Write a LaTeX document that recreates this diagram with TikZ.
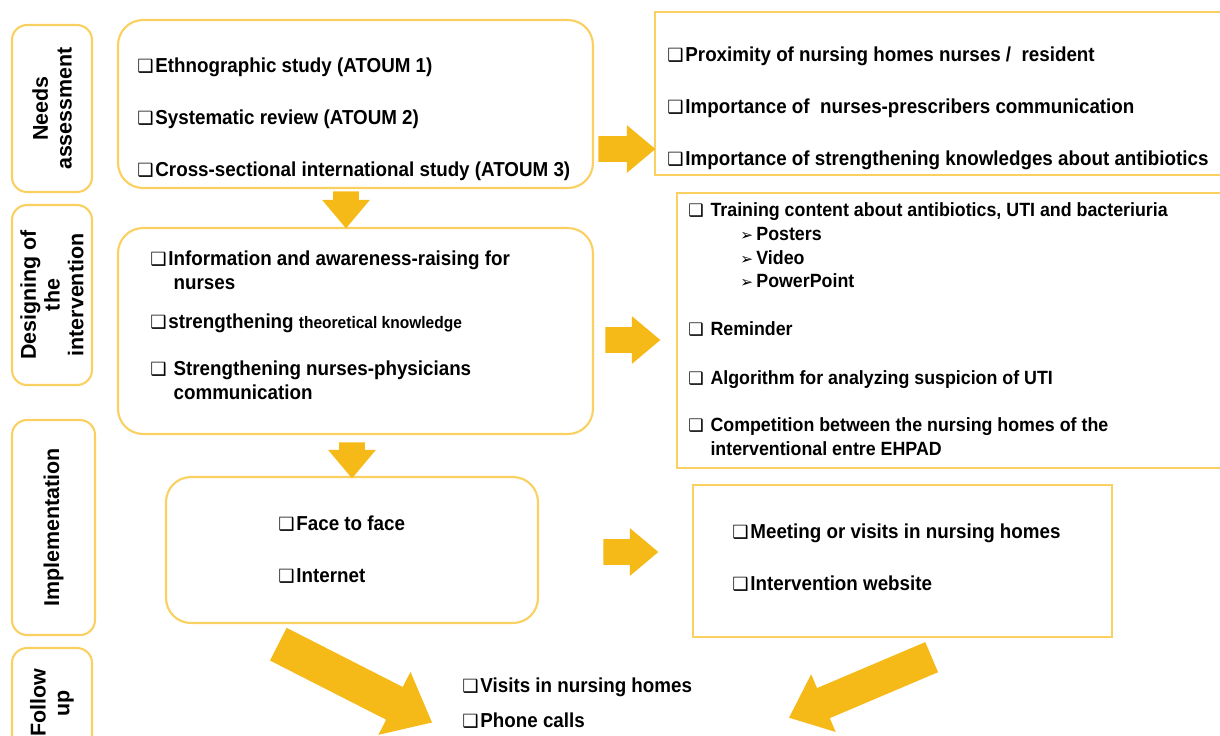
\documentclass[tikz,border=0pt]{standalone}
\usepackage{fontspec}
\setmainfont{Liberation Sans}[FakeStretch=0.93]
\newfontfamily\lblfont{Liberation Sans}
\newfontfamily\symfont{DejaVu Sans}
\usepackage{xcolor}
\usetikzlibrary{positioning,shapes.arrows}

\definecolor{boxline}{RGB}{250,208,96}
\definecolor{arrowfill}{RGB}{246,186,24}
\newcommand{\bx}{{\symfont\scalebox{0.9}{❑}}\kern1pt}
\newcommand{\nobx}{\phantom{\bx}}
\newcommand{\subarr}{\hspace*{1.04cm}{\symfont\scalebox{0.8}{➢}}\,}

\begin{document}
\begin{tikzpicture}[
    x=0.02cm, y=-0.02cm,
    phase/.style={
        draw=boxline,
        line width=1.2pt,
        rounded corners=0.3cm,
        rotate=90,
        align=center,
        inner sep=0pt,
        font=\lblfont\bfseries\fontsize{12.2}{13.5}\selectfont
    },
    block/.style={
        draw=boxline,
        line width=1.2pt,
        rounded corners=0.5cm,
        inner sep=0pt
    },
    plain/.style={
        draw=boxline,
        line width=1.2pt,
        inner sep=0pt
    },
    items/.style={
        anchor=north west,
        align=left,
        inner sep=0pt,
        font=\bfseries\fontsize{11.5}{14}\selectfont
    },
    bigarrow/.style={
        single arrow,
        fill=arrowfill,
        inner xsep=0pt,
        anchor=tail,
        single arrow tip angle=80
    }
]

\clip (0,0) rectangle (1220,735);

% phase labels
\node[phase, minimum width=3.34cm, minimum height=1.6cm] (needs) at (52,108.5)
{Needs\\assessment};
\node[phase, minimum width=3.6cm, minimum height=1.6cm] (design) at (52,295)
{Designing of\\the\\intervention};
\node[phase, minimum width=4.3cm, minimum height=1.66cm] (impl) at (53.5,527.5)
{Implementation};
\node[phase, minimum width=2.2cm, minimum height=1.6cm] (follow) at (52,703)
{Follow\\up};

% left column
\node[block, minimum width=9.5cm, minimum height=3.36cm] (needsBox) at (355.5,104) {};
\node[block, minimum width=9.5cm, minimum height=4.12cm] (designBox) at (355.5,331) {};
\node[block, minimum width=7.44cm, minimum height=2.92cm] (implBox) at (352,550) {};

% right column
\node[plain, minimum width=11.5cm, minimum height=3.26cm] (findBox) at (942.5,93.5) {};
\node[plain, minimum width=11.06cm, minimum height=5.5cm] (contentBox) at (953.5,330.5) {};
\node[plain, minimum width=8.38cm, minimum height=3.04cm] (channelBox) at (902.5,561) {};

% texts
\node[items] (needsTxt) at (137,57)
{\bx Ethnographic study (ATOUM 1)\\[15.6pt]
 \bx Systematic review (ATOUM 2)\\[15.6pt]
 \bx Cross-sectional international study (ATOUM 3)};

\node[items] (designTxt) at (150,250)
{\bx Information and awareness-raising for\\
 \nobx\ nurses\\[8pt]
 \bx strengthening {\fontsize{9.5}{14}\selectfont theoretical knowledge}\\[12.7pt]
 \bx\ Strengthening nurses-physicians\\
 \nobx\ communication};

\node[items] (implTxt) at (278,515)
{\bx Face to face\\[16pt]
 \bx Internet};

\node[items] (findTxt) at (667,46)
{\bx Proximity of nursing homes nurses /\ \ resident\\[15.6pt]
 \bx Importance of\ \ nurses-prescribers communication\\[15.6pt]
 \bx Importance of strengthening knowledges about antibiotics};

\node[items, font=\bfseries\fontsize{10.9}{13.6}\selectfont] (contentTxt) at (688,202)
{\bx\ Training content about antibiotics, UTI and bacteriuria\\
 \subarr Posters\\
 \subarr Video\\
 \subarr PowerPoint\\[13.6pt]
 \bx\ Reminder\\[14pt]
 \bx\ Algorithm for analyzing suspicion of UTI\\[13.6pt]
 \bx\ Competition between the nursing homes of the\\
 \nobx\ interventional entre EHPAD};

\node[items] (channelTxt) at (732,523)
{\bx Meeting or visits in nursing homes\\[16pt]
 \bx Intervention website};

\node[items] (followTxt) at (462,677)
{\bx Visits in nursing homes\\[6pt]
 \bx Phone calls};

% arrows
\node[bigarrow, minimum height=1.14cm, inner ysep=0.25cm,
      single arrow head extend=0.22cm] (arrNeeds) at (598,149) {};
\node[bigarrow, minimum height=1.1cm, inner ysep=0.25cm,
      single arrow head extend=0.22cm] (arrDesign) at (605,340) {};
\node[bigarrow, minimum height=1.1cm, inner ysep=0.25cm,
      single arrow head extend=0.22cm] (arrImpl) at (603,552) {};
\node[bigarrow, rotate=-90, minimum height=0.74cm, inner ysep=0.25cm,
      single arrow head extend=0.22cm] (arrDown1) at (346,191) {};
\node[bigarrow, rotate=-90, minimum height=0.72cm, inner ysep=0.25cm,
      single arrow head extend=0.22cm] (arrDown2) at (352,442) {};
\node[bigarrow, rotate=-27, minimum height=3.45cm, inner ysep=0.36cm,
      single arrow head extend=0.34cm] (arrFollowL) at (278,644) {};
\node[bigarrow, rotate=-157, minimum height=3.1cm, inner ysep=0.32cm,
      single arrow head extend=0.3cm] (arrFollowR) at (932,657) {};

\end{tikzpicture}
\end{document}
